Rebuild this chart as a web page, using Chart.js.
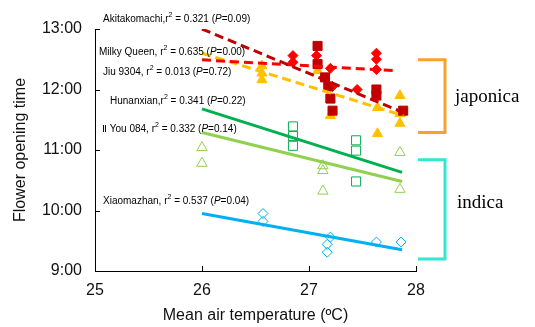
<!DOCTYPE html>
<html>
<head>
<meta charset="utf-8">
<script src="https://cdn.jsdelivr.net/npm/chart.js@4.4.1/dist/chart.umd.min.js"></script>
<style>
  html, body { margin: 0; padding: 0; background: #fff; }
  #wrap { position: relative; width: 535px; height: 327px; }
</style>
</head>
<body>
<div id="wrap"><canvas id="opening" width="535" height="327"></canvas></div>
<script>
// mean air temperature (°C) and flower opening time (decimal hours) per cultivar
const akitaTemp = [27.08, 27.08, 27.15, 27.18, 27.2, 27.22, 27.63, 27.63, 27.88];
const akitaTime = [12.72, 12.42, 12.2, 12.05, 11.85, 11.65, 12.0, 11.9, 11.65];

const milkyTemp = [26.85, 26.85, 27.07, 27.2, 27.22, 27.45, 27.63, 27.63, 27.63];
const milkyTime = [12.56, 12.45, 12.56, 12.35, 12.05, 12.0, 12.6, 12.5, 12.33];

const jiuTemp = [26.56, 26.56, 26.56, 27.08, 27.2, 27.2, 27.64, 27.64, 27.85, 27.85, 27.85];
const jiuTime = [12.39, 12.27, 12.16, 12.31, 11.85, 11.57, 11.7, 11.27, 11.9, 11.6, 11.44];

const hunanTemp = [26.85, 26.85, 26.85, 27.44, 27.44, 27.44];
const hunanTime = [11.39, 11.23, 11.07, 11.16, 10.99, 10.48];

const iiyouTemp = [26.0, 26.0, 27.13, 27.13, 27.13, 27.85, 27.85];
const iiyouTime = [11.04, 10.78, 10.74, 10.66, 10.32, 10.96, 10.35];

const xiaoTemp = [26.57, 26.57, 27.2, 27.17, 27.17, 27.63, 27.86];
const xiaoTime = [9.95, 9.82, 9.56, 9.44, 9.31, 9.48, 9.48];

// regression line end points
const akitaFitTemp = [26.0, 27.88], akitaFitTime = [13.0, 11.62];
const milkyFitTemp = [26.0, 27.82], milkyFitTime = [12.49, 12.31];
const jiuFitTemp = [26.0, 27.88], jiuFitTime = [12.6, 11.57];
const hunanFitTemp = [26.0, 27.87], hunanFitTime = [11.68, 10.63];
const iiyouFitTemp = [26.0, 27.87], iiyouFitTime = [11.29, 10.48];
const xiaoFitTemp = [26.0, 27.87], xiaoFitTime = [9.95, 9.35];

// regression statistics
const noteNames = ["Akitakomachi,", "Milky Queen, ", "Jiu 9304, ", "Hunanxian,", "\u2161 You 084, ", "Xiaomazhan, "];
const noteR2 = ["0.321", "0.635", "0.013", "0.341", "0.332", "0.537"];
const noteP = ["0.09", "0.00", "0.72", "0.22", "0.14", "0.04"];

const tempTicks = [25, 26, 27, 28];
const timeTicks = [9, 10, 11, 12, 13];

const notePos = [[103, 19], [99, 52], [103, 72], [110, 101], [102, 129], [103, 201]];

const pts = (xs, ys) => xs.map((x, i) => ({ x: x, y: ys[i] }));

function scatterSet(label, xs, ys, style, color, radius, filled) {
  return {
    type: "scatter",
    label: label,
    data: pts(xs, ys),
    pointStyle: style,
    pointRadius: radius,
    pointHoverRadius: radius,
    pointBorderWidth: 1,
    borderColor: color,
    backgroundColor: filled ? color : "rgba(0,0,0,0)",
    order: 2,
  };
}

function fitSet(label, xs, ys, color, dashed) {
  return {
    type: "line",
    label: label,
    data: pts(xs, ys),
    borderColor: color,
    borderWidth: 3,
    borderDash: dashed ? [9, 5] : [],
    borderCapStyle: "butt",
    pointRadius: 0,
    fill: false,
    order: 1,
  };
}

const SANS = '"Liberation Sans", Arial, sans-serif';

// stats text, brackets for the two subspecies and inward tick marks
const decorations = {
  id: "decorations",
  afterDraw(chart) {
    const ctx = chart.ctx;
    const xs = chart.scales.x, ys = chart.scales.y;
    ctx.save();

    // inward ticks
    ctx.strokeStyle = "#000";
    ctx.lineWidth = 1;
    ctx.beginPath();
    tempTicks.forEach((t) => {
      const px = Math.round(xs.getPixelForValue(t)) + 0.5;
      ctx.moveTo(px, ys.bottom);
      ctx.lineTo(px, ys.bottom - 5);
    });
    timeTicks.forEach((t) => {
      const py = Math.round(ys.getPixelForValue(t)) + 0.5;
      ctx.moveTo(xs.left, py);
      ctx.lineTo(xs.left + 5, py);
    });
    ctx.stroke();

    // r² / P notes
    ctx.fillStyle = "#000";
    ctx.textBaseline = "middle";
    ctx.textAlign = "left";
    noteNames.forEach((name, i) => {
      let [x, y] = notePos[i];
      const put = (txt, font, dy) => {
        ctx.font = font;
        ctx.fillText(txt, x, y + (dy || 0));
        x += ctx.measureText(txt).width;
      };
      put(name + "r", "10px " + SANS);
      put("2", "7px " + SANS, -4);
      put(" = " + noteR2[i] + " (", "10px " + SANS);
      put("P", "italic 10px " + SANS);
      put("=" + noteP[i] + ")", "10px " + SANS);
    });

    // japonica / indica brackets
    const bracket = (top, bottom, color) => {
      ctx.strokeStyle = color;
      ctx.lineWidth = 3;
      ctx.lineJoin = "miter";
      ctx.beginPath();
      ctx.moveTo(418, top);
      ctx.lineTo(445, top);
      ctx.lineTo(445, bottom);
      ctx.lineTo(418, bottom);
      ctx.stroke();
    };
    bracket(ys.getPixelForValue(12.49), ys.getPixelForValue(11.29), "#F9A12C");
    bracket(ys.getPixelForValue(10.84), ys.getPixelForValue(9.2), "#33E8D0");

    ctx.fillStyle = "#000";
    ctx.font = '19px "Liberation Serif", "Times New Roman", serif';
    ctx.textBaseline = "middle";
    ctx.fillText("japonica", 455, 97);
    ctx.fillText("indica", 457, 203);
    ctx.restore();
  },
};

new Chart(document.getElementById("opening"), {
  data: {
    datasets: [
      fitSet("Akitakomachi fit", akitaFitTemp, akitaFitTime, "#C00000", true),
      fitSet("Milky Queen fit", milkyFitTemp, milkyFitTime, "#FF0000", true),
      fitSet("Jiu 9304 fit", jiuFitTemp, jiuFitTime, "#FFC000", true),
      fitSet("Hunanxian fit", hunanFitTemp, hunanFitTime, "#00B050", false),
      fitSet("II You 084 fit", iiyouFitTemp, iiyouFitTime, "#92D050", false),
      fitSet("Xiaomazhan fit", xiaoFitTemp, xiaoFitTime, "#00B0F0", false),
      scatterSet("Akitakomachi", akitaTemp, akitaTime, "rect", "#C00000", 6.4, true),
      scatterSet("Milky Queen", milkyTemp, milkyTime, "rectRot", "#FF0000", 5, true),
      scatterSet("Jiu 9304", jiuTemp, jiuTime, "triangle", "#FFC000", 5.8, true),
      scatterSet("Hunanxian", hunanTemp, hunanTime, "rect", "#00B050", 6.4, false),
      scatterSet("II You 084", iiyouTemp, iiyouTime, "triangle", "#92D050", 6, false),
      scatterSet("Xiaomazhan", xiaoTemp, xiaoTime, "rectRot", "#00B0F0", 5, false),
    ],
  },
  options: {
    responsive: false,
    animation: false,
    layout: { padding: { top: 29, right: 119, bottom: 0, left: 0 } },
    plugins: { legend: { display: false }, tooltip: { enabled: false } },
    scales: {
      x: {
        type: "linear",
        min: 25,
        max: 28,
        afterFit: (s) => { s.height = 56; },
        afterBuildTicks: (s) => { s.ticks = tempTicks.map((v) => ({ value: v })); },
        grid: { display: false, drawTicks: false },
        border: { display: true, color: "#000", width: 1 },
        ticks: { padding: 10, color: "#111", font: { family: SANS, size: 16 } },
        title: {
          display: true,
          text: "Mean air temperature (\u00BAC)",
          color: "#111",
          font: { family: SANS, size: 16 },
          padding: { top: 0, bottom: 2 },
        },
      },
      y: {
        type: "linear",
        min: 9,
        max: 13,
        afterFit: (s) => { s.width = 95; },
        afterBuildTicks: (s) => { s.ticks = timeTicks.map((v) => ({ value: v })); },
        grid: { display: false, drawTicks: false },
        border: { display: true, color: "#000", width: 1 },
        ticks: {
          padding: 13,
          color: "#111",
          font: { family: SANS, size: 16 },
          callback: (v) => v + ":00",
        },
        title: {
          display: true,
          text: "Flower opening time",
          color: "#111",
          font: { family: SANS, size: 16 },
          padding: { top: 11, bottom: 0 },
        },
      },
    },
  },
  plugins: [decorations],
});
</script>
</body>
</html>
